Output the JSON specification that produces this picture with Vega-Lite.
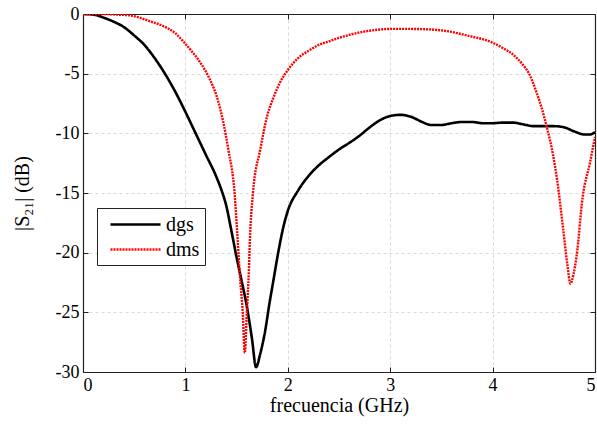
{
  "$schema": "https://vega.github.io/schema/vega-lite/v6.json",
  "width": 512,
  "height": 358,
  "autosize": "none",
  "padding": {"left": 83, "top": 14, "right": 2, "bottom": 52},
  "background": "white",
  "config": {
    "font": "Liberation Serif",
    "view": {"stroke": null},
    "axis": {"labelFont": "Liberation Serif", "titleFont": "Liberation Serif", "labelColor": "black", "titleColor": "black", "labelFontSize": 18, "titleFontSize": 20, "titleFontWeight": "normal", "domain": true, "domainColor": "#222", "domainWidth": 1.2, "gridColor": "#d9d9d9", "gridDash": [3, 3], "gridWidth": 1, "tickColor": "#222", "tickSize": -5, "tickWidth": 1},
    "legend": {"labelFont": "Liberation Serif"}
  },
  "data": {"values": [
    {"f":0,"s":0,"series":"dgs"},{"f":0.1,"s":-0.05,"series":"dgs"},{"f":0.2,"s":-0.3,"series":"dgs"},{"f":0.3,"s":-0.65,"series":"dgs"},{"f":0.4,"s":-1.1,"series":"dgs"},{"f":0.5,"s":-1.8,"series":"dgs"},{"f":0.6,"s":-2.6,"series":"dgs"},{"f":0.7,"s":-3.7,"series":"dgs"},{"f":0.8,"s":-5.0,"series":"dgs"},{"f":0.9,"s":-6.5,"series":"dgs"},{"f":1.0,"s":-8.2,"series":"dgs"},{"f":1.1,"s":-10.0,"series":"dgs"},{"f":1.2,"s":-11.8,"series":"dgs"},{"f":1.3,"s":-13.6,"series":"dgs"},{"f":1.35,"s":-14.7,"series":"dgs"},{"f":1.4,"s":-16.1,"series":"dgs"},{"f":1.45,"s":-18.2,"series":"dgs"},{"f":1.5,"s":-20.4,"series":"dgs"},{"f":1.55,"s":-22.4,"series":"dgs"},{"f":1.6,"s":-24.5,"series":"dgs"},{"f":1.65,"s":-27.2,"series":"dgs"},{"f":1.69,"s":-29.6,"series":"dgs"},{"f":1.73,"s":-28.5,"series":"dgs"},{"f":1.78,"s":-26.5,"series":"dgs"},{"f":1.82,"s":-24.3,"series":"dgs"},{"f":1.86,"s":-22.3,"series":"dgs"},{"f":1.9,"s":-20.3,"series":"dgs"},{"f":1.95,"s":-18.1,"series":"dgs"},{"f":2.0,"s":-16.5,"series":"dgs"},{"f":2.1,"s":-14.8,"series":"dgs"},{"f":2.2,"s":-13.6,"series":"dgs"},{"f":2.3,"s":-12.7,"series":"dgs"},{"f":2.4,"s":-12.0,"series":"dgs"},{"f":2.5,"s":-11.35,"series":"dgs"},{"f":2.6,"s":-10.8,"series":"dgs"},{"f":2.7,"s":-10.2,"series":"dgs"},{"f":2.8,"s":-9.5,"series":"dgs"},{"f":2.9,"s":-8.9,"series":"dgs"},{"f":3.0,"s":-8.55,"series":"dgs"},{"f":3.1,"s":-8.45,"series":"dgs"},{"f":3.2,"s":-8.6,"series":"dgs"},{"f":3.3,"s":-9.0,"series":"dgs"},{"f":3.4,"s":-9.3,"series":"dgs"},{"f":3.5,"s":-9.3,"series":"dgs"},{"f":3.6,"s":-9.15,"series":"dgs"},{"f":3.7,"s":-9.05,"series":"dgs"},{"f":3.8,"s":-9.05,"series":"dgs"},{"f":3.9,"s":-9.15,"series":"dgs"},{"f":4.0,"s":-9.15,"series":"dgs"},{"f":4.1,"s":-9.1,"series":"dgs"},{"f":4.2,"s":-9.1,"series":"dgs"},{"f":4.3,"s":-9.25,"series":"dgs"},{"f":4.4,"s":-9.4,"series":"dgs"},{"f":4.5,"s":-9.4,"series":"dgs"},{"f":4.6,"s":-9.4,"series":"dgs"},{"f":4.7,"s":-9.5,"series":"dgs"},{"f":4.8,"s":-9.85,"series":"dgs"},{"f":4.9,"s":-10.1,"series":"dgs"},{"f":4.95,"s":-10.1,"series":"dgs"},{"f":5.0,"s":-9.9,"series":"dgs"},
    {"f":0,"s":0,"series":"dms"},{"f":0.2,"s":0,"series":"dms"},{"f":0.33,"s":-0.05,"series":"dms"},{"f":0.46,"s":-0.12,"series":"dms"},{"f":0.55,"s":-0.3,"series":"dms"},{"f":0.65,"s":-0.6,"series":"dms"},{"f":0.78,"s":-1.0,"series":"dms"},{"f":0.9,"s":-1.6,"series":"dms"},{"f":0.98,"s":-2.3,"series":"dms"},{"f":1.05,"s":-3.0,"series":"dms"},{"f":1.14,"s":-4.0,"series":"dms"},{"f":1.24,"s":-5.5,"series":"dms"},{"f":1.32,"s":-7.3,"series":"dms"},{"f":1.42,"s":-11.4,"series":"dms"},{"f":1.48,"s":-15,"series":"dms"},{"f":1.51,"s":-18.9,"series":"dms"},{"f":1.53,"s":-21.7,"series":"dms"},{"f":1.56,"s":-25,"series":"dms"},{"f":1.58,"s":-28.4,"series":"dms"},{"f":1.6,"s":-25,"series":"dms"},{"f":1.62,"s":-21.5,"series":"dms"},{"f":1.63,"s":-18.9,"series":"dms"},{"f":1.66,"s":-15,"series":"dms"},{"f":1.73,"s":-11.4,"series":"dms"},{"f":1.8,"s":-8.5,"series":"dms"},{"f":1.86,"s":-7.0,"series":"dms"},{"f":1.92,"s":-5.8,"series":"dms"},{"f":2.0,"s":-4.7,"series":"dms"},{"f":2.1,"s":-3.7,"series":"dms"},{"f":2.2,"s":-3.1,"series":"dms"},{"f":2.3,"s":-2.6,"series":"dms"},{"f":2.4,"s":-2.3,"series":"dms"},{"f":2.5,"s":-2.0,"series":"dms"},{"f":2.6,"s":-1.75,"series":"dms"},{"f":2.7,"s":-1.55,"series":"dms"},{"f":2.8,"s":-1.4,"series":"dms"},{"f":2.9,"s":-1.3,"series":"dms"},{"f":3.0,"s":-1.25,"series":"dms"},{"f":3.2,"s":-1.25,"series":"dms"},{"f":3.4,"s":-1.3,"series":"dms"},{"f":3.6,"s":-1.5,"series":"dms"},{"f":3.7,"s":-1.7,"series":"dms"},{"f":3.8,"s":-1.9,"series":"dms"},{"f":3.9,"s":-2.1,"series":"dms"},{"f":4.0,"s":-2.4,"series":"dms"},{"f":4.1,"s":-2.85,"series":"dms"},{"f":4.2,"s":-3.4,"series":"dms"},{"f":4.3,"s":-4.3,"series":"dms"},{"f":4.35,"s":-4.9,"series":"dms"},{"f":4.43,"s":-6.6,"series":"dms"},{"f":4.48,"s":-7.9,"series":"dms"},{"f":4.53,"s":-9.5,"series":"dms"},{"f":4.59,"s":-11.8,"series":"dms"},{"f":4.63,"s":-13.9,"series":"dms"},{"f":4.69,"s":-18.1,"series":"dms"},{"f":4.73,"s":-21,"series":"dms"},{"f":4.76,"s":-22.6,"series":"dms"},{"f":4.79,"s":-21.8,"series":"dms"},{"f":4.82,"s":-20.3,"series":"dms"},{"f":4.88,"s":-15.3,"series":"dms"},{"f":4.95,"s":-12.5,"series":"dms"},{"f":5.0,"s":-10.3,"series":"dms"}
  ]},
  "layer": [
    {
      "mark": {"type": "line", "interpolate": "monotone", "clip": true},
      "encoding": {
        "x": {"field": "f", "type": "quantitative", "scale": {"domain": [0, 5], "nice": false},
              "axis": {"values": [0, 1, 2, 3, 4, 5], "title": "frecuencia (GHz)", "labelPadding": 9, "titlePadding": 1, "labelExpr": "'' + datum.value"}},
        "y": {"field": "s", "type": "quantitative", "scale": {"domain": [-30, 0], "nice": false},
              "axis": {"values": [-30, -25, -20, -15, -10, -5, 0], "title": "|S₂₁| (dB)", "labelPadding": 9, "titlePadding": 23, "labelExpr": "'' + datum.value"}},
        "color": {"field": "series", "type": "nominal", "scale": {"domain": ["dgs", "dms"], "range": ["#000000", "#ff0000"]},
                  "legend": {"title": null, "orient": "none", "legendX": 14, "legendY": 194, "symbolType": "M-2.5,0H2.5", "symbolSize": 400, "symbolOffset": 22, "symbolStrokeWidth": 2.5, "labelFont": "Liberation Serif", "labelFontSize": 20, "labelColor": "black", "strokeColor": "#222", "fillColor": "white", "padding": 5, "rowPadding": 3, "labelOffset": 19, "labelLimit": 200}},
        "strokeDash": {"field": "series", "type": "nominal", "scale": {"domain": ["dgs", "dms"], "range": [[1, 0], [2, 1]]}},
        "strokeWidth": {"field": "series", "type": "nominal", "scale": {"domain": ["dgs", "dms"], "range": [2.6, 2.4]}, "legend": null}
      }
    },
    {
      "mark": {"type": "line", "opacity": 0},
      "encoding": {
        "x": {"field": "f", "type": "quantitative", "scale": {"domain": [0, 5], "nice": false},
              "axis": {"orient": "top", "values": [0, 1, 2, 3, 4, 5], "labels": false, "title": null, "grid": false}},
        "y": {"field": "s", "type": "quantitative", "scale": {"domain": [-30, 0], "nice": false},
              "axis": {"orient": "right", "values": [-30, -25, -20, -15, -10, -5, 0], "labels": false, "title": null, "grid": false}},
        "detail": {"field": "series"}
      }
    }
  ],
  "resolve": {"axis": {"x": "independent", "y": "independent"}}
}
